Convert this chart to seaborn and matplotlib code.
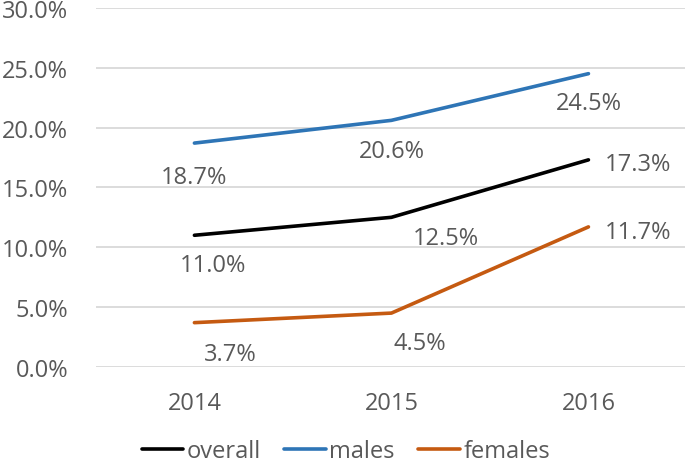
import numpy as np
import pandas as pd
import matplotlib.pyplot as plt
import seaborn as sns
from matplotlib.ticker import PercentFormatter

years = ["2014", "2015", "2016"]
overall = [11.0, 12.5, 17.3]
males = [18.7, 20.6, 24.5]
females = [3.7, 4.5, 11.7]

series_names = ["overall", "males", "females"]
palette = {"overall": "#000000", "males": "#2E75B6", "females": "#C55A11"}

# label offsets in pixels (dx, dy) and alignment
label_offsets = {
    "overall": [(19, -30, "center"), (54, -21, "center"), (16, -4, "left")],
    "males": [(0, -34, "center"), (0, -31, "center"), (0, -29, "center")],
    "females": [(36, -31, "center"), (28, -30, "center"), (16, -5, "left")],
}

df = pd.DataFrame({
    "year": years * 3,
    "x": list(range(len(years))) * 3,
    "value": overall + males + females,
    "series": [s for s in series_names for _ in years],
})

sns.set_style("white")
plt.rcParams["font.family"] = ["Open Sans", "DejaVu Sans"]
text_color = "#595959"
fs = 17

fig = plt.figure(figsize=(6.85, 4.64), dpi=100)
ax = fig.add_axes([0.140, 0.207, 0.860, 0.774])

sns.lineplot(data=df, x="x", y="value", hue="series", palette=palette,
             hue_order=series_names, linewidth=2.6, ax=ax)

for name in series_names:
    sub = df[df["series"] == name]
    for (xv, yv), (dx, dy, ha) in zip(zip(sub["x"], sub["value"]), label_offsets[name]):
        ax.annotate(f"{yv:.1f}%", (xv, yv), xytext=(dx, dy), textcoords="offset pixels",
                    ha=ha, va="center", fontsize=fs, color=text_color)

ax.set_ylim(0, 30)
ax.set_yticks(np.arange(0, 31, 5))
ax.yaxis.set_major_formatter(PercentFormatter(decimals=1))
ax.set_xlim(-0.5, 2.49)
ax.set_xticks(range(len(years)))
ax.set_xticklabels(years)
ax.grid(axis="y", color="#D9D9D9", linewidth=1.3)
ax.set_axisbelow(True)
for s in ax.spines.values():
    s.set_visible(False)
ax.tick_params(axis="x", length=0, pad=17, labelsize=fs, labelcolor=text_color)
ax.tick_params(axis="y", length=0, pad=20, labelsize=fs, labelcolor=text_color)
ax.set_xlabel("")
ax.set_ylabel("")

handles, labels = ax.get_legend_handles_labels()
ax.get_legend().remove()
leg = fig.legend(handles, labels, loc="center", bbox_to_anchor=(0.505, 0.026), ncol=3,
                 frameon=False, fontsize=fs, handlelength=1.75, handletextpad=0.15,
                 columnspacing=1.0, borderpad=0, borderaxespad=0)
for t in leg.get_texts():
    t.set_color(text_color)
for h in leg.get_lines():
    h.set_linewidth(2.6)

fig.savefig("out.png", dpi=100)
